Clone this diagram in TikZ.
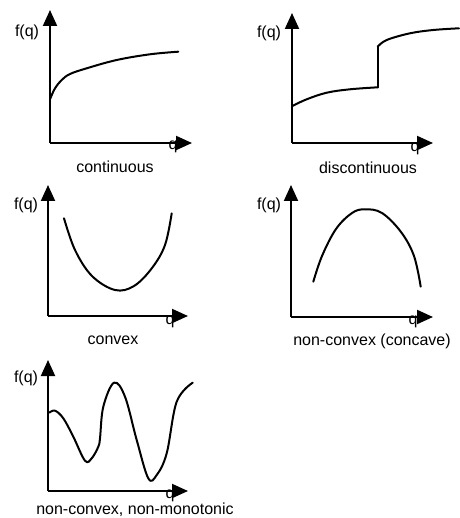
\documentclass[tikz,border=0pt]{standalone}
\usepackage{fontspec}
\setmainfont{Liberation Sans}
\usetikzlibrary{arrows.meta}
\tikzset{
  axis/.style={line width=2pt, -{Triangle[length=16pt,width=14pt]}},
  curve/.style={line width=2pt, line join=round, line cap=round},
  lbl/.style={inner sep=0pt, font=\fontsize{16}{19}\selectfont},
}
\begin{document}
\begin{tikzpicture}[x=1pt,y=-1pt]
\useasboundingbox (0,0) rectangle (459,518);
% panel 1
\coordinate (o1) at (50,143); \coordinate (y1) at (50,10); \coordinate (x1) at (192,143);
\draw[axis] (o1) -- (y1); \draw[axis] (o1) -- (x1);
\node[lbl] (f1) at (27,32) {f(q)};
\node[lbl] (q1) at (173,147) {q};
\node[lbl] (t1) at (115,167) {continuous};
\draw[curve] plot[smooth,tension=0.6] coordinates {(50,99.3) (55,88.3) (61.7,80) (70,74) (86.7,68.3) (116.7,60) (150,54.3) (178.3,51.7)};
% panel 2
\coordinate (o2) at (292,143); \coordinate (y2) at (292,13); \coordinate (x2) at (433,143);
\draw[axis] (o2) -- (y2); \draw[axis] (o2) -- (x2);
\node[lbl] (f2) at (269,33) {f(q)};
\node[lbl] (q2) at (415,149) {q};
\node[lbl] (t2) at (368,168) {discontinuous};
\draw[curve] plot[smooth,tension=0.6] coordinates {(292.3,106) (306.7,99.3) (326.7,92.7) (350,89.3) (377.7,87.3)};
\draw[curve] (377.7,87.3) -- (377.7,46.7);
\draw[curve] plot[smooth,tension=0.6] coordinates {(377.7,46.7) (386.7,40) (410,33.3) (433.3,30) (459,28.3)};
% panel 3
\coordinate (o3) at (48,316); \coordinate (y3) at (48,185); \coordinate (x3) at (188,316);
\draw[axis] (o3) -- (y3); \draw[axis] (o3) -- (x3);
\node[lbl] (f3) at (26,205) {f(q)};
\node[lbl] (q3) at (170,322) {q};
\node[lbl] (t3) at (113,340) {convex};
\draw[curve] plot[smooth,tension=0.6] coordinates {(64,218.3) (75,250) (92,276) (115,290) (134,286) (152,268) (165,245) (171.7,213.3)};
% panel 4
\coordinate (o4) at (291,317); \coordinate (y4) at (291,185); \coordinate (x4) at (433,317);
\draw[axis] (o4) -- (y4); \draw[axis] (o4) -- (x4);
\node[lbl] (f4) at (269,205) {f(q)};
\node[lbl] (q4) at (413,322) {q};
\node[lbl] (t4) at (372,341) {non-convex (concave)};
\draw[curve] plot[smooth,tension=0.6] coordinates {(313.3,281.7) (322,256) (336,229) (352,213) (365,209.3) (382,213) (401,232) (414,256) (420.7,286.7)};
% panel 5
\coordinate (o5) at (48,491); \coordinate (y5) at (48,360); \coordinate (x5) at (188,491);
\draw[axis] (o5) -- (y5); \draw[axis] (o5) -- (x5);
\node[lbl] (f5) at (26,378) {f(q)};
\node[lbl] (q5) at (170,496) {q};
\node[lbl] (t5) at (135,510) {non-convex, non-monotonic};
\draw[curve] plot[smooth,tension=0.6] coordinates {(49.3,412.7) (55,410.7) (63.3,418.3) (73.3,436.7) (85,460.7) (91.7,458.3) (98.3,446.7) (100,438.3) (103.3,406.7) (114,382.7) (125,396.7) (136.7,440) (148.3,478.3) (156.7,475) (166.7,453.3) (176.7,401.7) (192.7,382.7)};
\end{tikzpicture}
\end{document}
